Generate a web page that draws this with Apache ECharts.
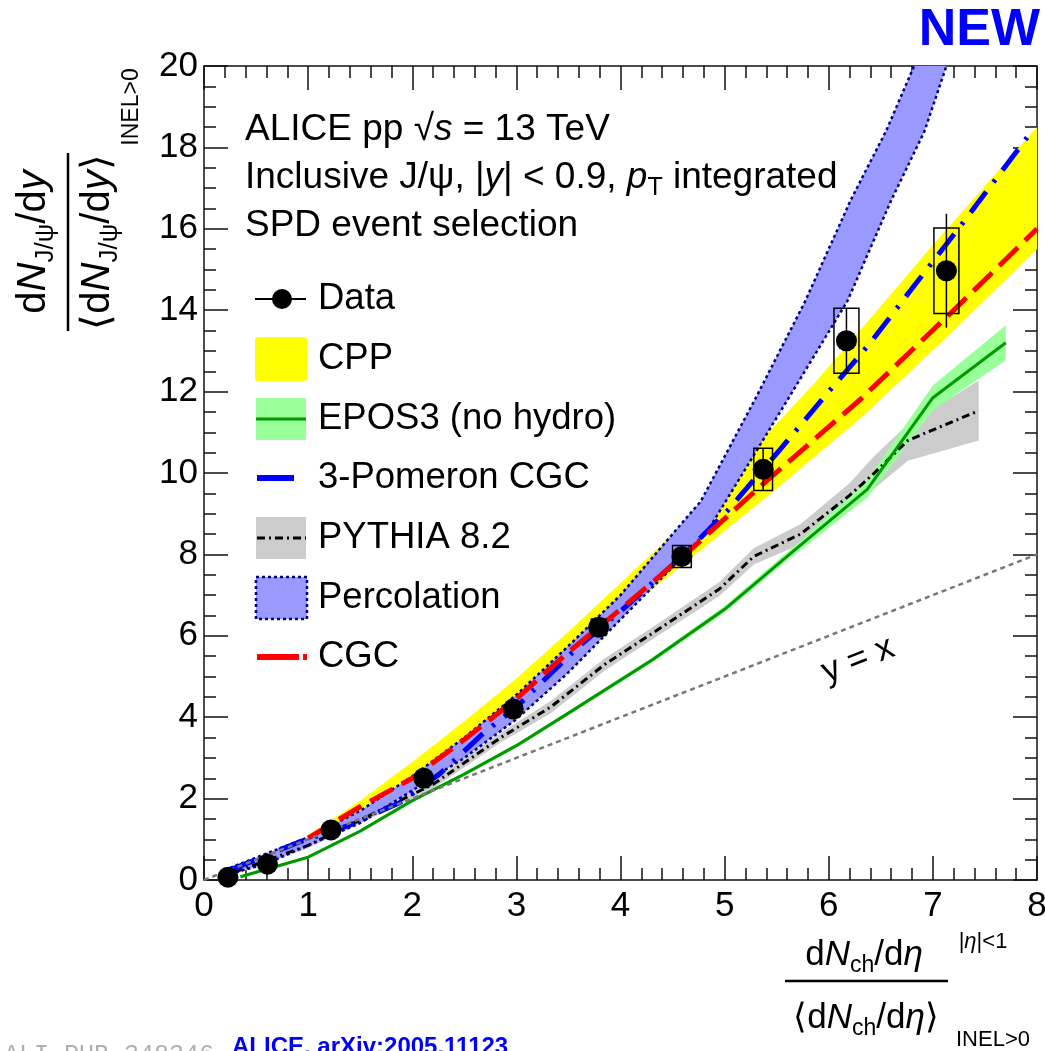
<!DOCTYPE html>
<html>
<head>
<meta charset="utf-8">
<script src="https://cdn.jsdelivr.net/npm/echarts@6/dist/echarts.min.js"></script>
<style>
html,body{margin:0;padding:0;background:#fff;}
#chart{width:1045px;height:1051px;}
</style>
</head>
<body>
<div id="chart"></div>
<script>
// ---------------- DATA ----------------
const xTicks = [0, 1, 2, 3, 4, 5, 6, 7, 8];
const yTicks = [0, 2, 4, 6, 8, 10, 12, 14, 16, 18, 20];

// ALICE data
const dataX   = [0.23, 0.61, 1.22, 2.11, 2.97, 3.79, 4.59, 5.37, 6.17, 7.13];
const dataY   = [0.07, 0.39, 1.23, 2.50, 4.20, 6.21, 7.95, 10.09, 13.25, 14.97];
const statErr = [0.02, 0.03, 0.05, 0.08, 0.12, 0.15, 0.18, 0.52, 0.80, 1.40];
const sysErrX = [0.02, 0.03, 0.04, 0.05, 0.06, 0.07, 0.09, 0.09, 0.12, 0.12];
const sysErrY = [0.02, 0.03, 0.06, 0.10, 0.15, 0.20, 0.27, 0.52, 0.80, 1.05];

// CPP band
const cppUpX = [1.0, 1.5, 2.0, 2.5, 3.0, 3.5, 4.0, 4.64, 5.35, 5.86, 6.2, 7.0, 8.0];
const cppUpY = [1.1, 1.95, 2.9, 3.9, 4.95, 6.1, 7.3, 8.83, 10.8, 12.2, 13.2, 15.6, 18.5];
const cppLoX = [1.0, 2.17, 3.0, 3.78, 4.6, 5.47, 6.31, 7.2, 8.0];
const cppLoY = [1.0, 2.7, 4.45, 6.05, 7.75, 9.55, 11.36, 13.5, 15.5];

// EPOS3 (no hydro)
const eposX    = [0.35, 1.0, 1.5, 2.0, 2.5, 3.0, 3.5, 4.3, 5.0, 5.6, 6.37, 7.0, 7.7];
const eposY    = [0.08, 0.56, 1.2, 1.95, 2.6, 3.3, 4.1, 5.4, 6.65, 7.95, 9.6, 11.85, 13.2];
const eposHigh = [0.11, 0.59, 1.23, 1.99, 2.64, 3.35, 4.15, 5.46, 6.73, 8.05, 9.82, 12.15, 13.63];
const eposLow  = [0.05, 0.53, 1.17, 1.91, 2.56, 3.25, 4.05, 5.34, 6.57, 7.85, 9.4, 11.55, 12.77];

// 3-Pomeron CGC
const pomX = [0.25, 0.5, 0.92, 1.4, 1.88, 2.27, 2.68, 3.0, 3.59, 4.0, 4.59, 5.03, 5.54, 6.0, 6.4, 6.82, 7.29, 7.95];
const pomY = [0.25, 0.5, 0.94, 1.35, 1.9, 2.62, 3.6, 4.25, 5.72, 6.6, 7.95, 9.08, 10.6, 12.0, 13.2, 14.6, 16.15, 18.4];

// PYTHIA 8.2
const pyX    = [0.3, 1.0, 1.4, 1.8, 2.2, 2.85, 3.33, 3.85, 4.3, 4.95, 5.28, 5.73, 6.2, 6.43, 6.76, 7.44];
const pyY    = [0.2, 0.85, 1.35, 1.85, 2.35, 3.5, 4.25, 5.3, 6.05, 7.15, 7.95, 8.5, 9.45, 9.98, 10.8, 11.53];
const pyHigh = [0.25, 0.92, 1.43, 1.95, 2.45, 3.62, 4.4, 5.45, 6.2, 7.32, 8.15, 8.75, 9.75, 10.4, 11.2, 12.27];
const pyLow  = [0.15, 0.78, 1.27, 1.75, 2.25, 3.38, 4.1, 5.15, 5.9, 6.98, 7.75, 8.25, 9.15, 9.6, 10.3, 10.8];

// Percolation band
const percUpX = [0.25, 0.6, 1.0, 1.5, 2.0, 2.5, 3.0, 3.5, 4.0, 4.6, 4.77, 5.29, 5.77, 6.21, 6.55, 6.82];
const percUpY = [0.3, 0.65, 1.05, 1.7, 2.55, 3.5, 4.55, 5.75, 7.0, 8.8, 9.3, 11.8, 14.2, 16.7, 18.4, 20.0];
const percLoX = [0.25, 0.6, 1.0, 1.5, 2.0, 2.5, 3.0, 3.5, 4.0, 4.6, 4.84, 5.6, 6.18, 6.6, 6.92, 7.13];
const percLoY = [0.15, 0.4, 0.85, 1.4, 2.2, 3.0, 3.95, 5.1, 6.4, 7.95, 8.59, 11.78, 14.23, 16.7, 18.4, 20.0];

// CGC
const cgcX = [1.0, 1.5, 2.0, 2.5, 3.0, 3.5, 4.0, 4.6, 5.4, 6.3, 7.2, 8.0];
const cgcY = [1.03, 1.8, 2.5, 3.45, 4.45, 5.6, 6.65, 7.95, 9.8, 11.8, 14.0, 16.0];

// y = x reference
const diagX = [0, 8];
const diagY = [0, 8];

// legend entries
const legendNames = ['Data', 'CPP', 'EPOS3 (no hydro)', '3-Pomeron CGC', 'PYTHIA 8.2', 'Percolation', 'CGC'];

// ---------------- HELPERS ----------------
const FF = '"Liberation Sans", Arial, Helvetica, sans-serif';
const zip = (xs, ys) => xs.map((x, i) => [x, ys[i]]);

function bandSeries(upX, upY, loX, loY, color) {
  return {
    type: 'custom', coordinateSystem: 'cartesian2d', clip: true, silent: true,
    xAxisIndex: 0, yAxisIndex: 0,
    data: [[upX[0], upY[0]]],
    renderItem: function (params, api) {
      const pts = [];
      for (let i = 0; i < upX.length; i++) pts.push(api.coord([upX[i], upY[i]]));
      for (let i = loX.length - 1; i >= 0; i--) pts.push(api.coord([loX[i], loY[i]]));
      return { type: 'polygon', shape: { points: pts }, style: { fill: color, stroke: null } };
    }
  };
}
function lineSeries(data, color, width, type) {
  return {
    type: 'line', data: data, symbol: 'none', showSymbol: false, silent: true,
    xAxisIndex: 0, yAxisIndex: 0, clip: true,
    lineStyle: { color: color, width: width, type: type, cap: 'butt' }
  };
}

// ---------------- CHART ----------------
const chart = echarts.init(document.getElementById('chart'), null, { renderer: 'canvas' });

const axisCommon = {
  axisLine: { show: true, onZero: false, lineStyle: { color: '#111', width: 1.5 } },
  axisTick: { show: true, inside: true, length: 24, lineStyle: { color: '#111', width: 1.5 } },
  minorTick: { show: true, length: 12, lineStyle: { color: '#111', width: 1.5 } },
  splitLine: { show: false },
  minorSplitLine: { show: false }
};

const HS = 37;
const rich = {
  it: { fontStyle: 'italic', fontSize: HS, fontFamily: FF, color: '#000' },
  sub: { fontSize: 25, fontFamily: FF, color: '#000', padding: [20, 0, 0, 0] }
};

function txt(x, y, text, size, opts) {
  opts = opts || {};
  return {
    type: 'text', x: x, y: y, z: 100, rotation: opts.rotation || 0,
    style: {
      text: text, fontSize: size, fontFamily: opts.family || FF, fontWeight: opts.weight || 'normal',
      fill: opts.color || '#000', align: opts.align || 'left', verticalAlign: opts.valign || 'middle',
      textAlign: opts.align || 'left', textVerticalAlign: opts.valign || 'middle',
      rich: opts.rich
    }
  };
}

const legendY = [299, 359, 419, 478, 538, 598, 657];

const graphics = [
  // header texts
  txt(245, 130, 'ALICE pp √{it|s} = 13 TeV', HS, { rich: rich }),
  txt(245, 178, 'Inclusive J/ψ, |{it|y}| < 0.9, {it|p}{sub|T} integrated', HS, { rich: rich }),
  txt(245, 226, 'SPD event selection', HS),
  // NEW
  txt(1040, 31, 'NEW', 52, { weight: 'bold', color: '#0000ff', align: 'right' }),
  // footer
  txt(232, 1047, 'ALICE, arXiv:2005.11123', 24, { weight: 'bold', color: '#0000ff' }),
  txt(4, 1055, 'ALI-PUB-348346', 25, { family: '"Liberation Mono", "DejaVu Sans Mono", monospace', color: '#b0b0b0' }),
  // y = x label
  txt(858, 660, 'y = x', 35, { align: 'center', rotation: 0.373 }),
  // legend symbols
  { type: 'line', z: 100, shape: { x1: 255, y1: legendY[0], x2: 306, y2: legendY[0] }, style: { stroke: '#000', lineWidth: 2 } },
  { type: 'circle', z: 101, shape: { cx: 282, cy: legendY[0], r: 10 }, style: { fill: '#000' } },
  { type: 'rect', z: 100, shape: { x: 255, y: legendY[1] - 22, width: 52, height: 44, r: 3 }, style: { fill: '#ffff00' } },
  { type: 'rect', z: 100, shape: { x: 256, y: legendY[2] - 21, width: 50, height: 42 }, style: { fill: '#99ff99' } },
  { type: 'line', z: 101, shape: { x1: 256, y1: legendY[2], x2: 306, y2: legendY[2] }, style: { stroke: '#009900', lineWidth: 3 } },
  { type: 'line', z: 100, shape: { x1: 257, y1: legendY[3], x2: 294, y2: legendY[3] }, style: { stroke: '#0000ff', lineWidth: 6 } },
  { type: 'rect', z: 100, shape: { x: 256, y: legendY[4] - 21, width: 50, height: 42 }, style: { fill: '#cccccc' } },
  { type: 'line', z: 101, shape: { x1: 257, y1: legendY[4], x2: 306, y2: legendY[4] }, style: { stroke: '#000', lineWidth: 3, lineDash: [8, 4, 2, 4] } },
  { type: 'rect', z: 100, shape: { x: 256, y: legendY[5] - 21, width: 51, height: 42 }, style: { fill: '#9999ff', stroke: '#000080', lineWidth: 2.5, lineDash: [3, 3] } },
  { type: 'line', z: 100, shape: { x1: 257, y1: legendY[6], x2: 299, y2: legendY[6] }, style: { stroke: '#ff0000', lineWidth: 6 } },
  { type: 'line', z: 100, shape: { x1: 303, y1: legendY[6], x2: 307, y2: legendY[6] }, style: { stroke: '#ff0000', lineWidth: 6 } },
  // y axis title (rotated fraction)
  {
    type: 'group', x: 68, y: 242, rotation: Math.PI / 2, z: 100,
    children: [
      { type: 'text', x: 0, y: -34, style: { text: 'd{iN|N}{s|J/ψ}/d{iN|y}', fontSize: 40, fontFamily: FF, fill: '#000', align: 'center', verticalAlign: 'middle',
        rich: { iN: { fontStyle: 'italic', fontSize: 40, fontFamily: FF }, s: { fontSize: 26, fontFamily: FF, padding: [24, 0, 0, 0] } } } },
      { type: 'line', shape: { x1: -89, y1: 0, x2: 89, y2: 0 }, style: { stroke: '#000', lineWidth: 2.5 } },
      { type: 'text', x: 0, y: 30, style: { text: '⟨d{iN|N}{s|J/ψ}/d{iN|y}⟩', fontSize: 40, fontFamily: FF, fill: '#000', align: 'center', verticalAlign: 'middle',
        rich: { iN: { fontStyle: 'italic', fontSize: 40, fontFamily: FF }, s: { fontSize: 26, fontFamily: FF, padding: [24, 0, 0, 0] } } } },
      { type: 'text', x: 135, y: 64, style: { text: 'INEL>0', fontSize: 23, fontFamily: FF, fill: '#000', align: 'center', verticalAlign: 'middle' } }
    ]
  },
  // x axis title (fraction)
  { type: 'text', x: 864, y: 955, z: 100, style: { text: 'd{iN|N}{s|ch}/d{iN|η}', fontSize: 35, fontFamily: FF, fill: '#000', align: 'center', verticalAlign: 'middle',
      rich: { iN: { fontStyle: 'italic', fontSize: 35, fontFamily: FF }, s: { fontSize: 23, fontFamily: FF, padding: [22, 0, 0, 0] } } } },
  { type: 'line', z: 100, shape: { x1: 785, y1: 981, x2: 948, y2: 981 }, style: { stroke: '#000', lineWidth: 2.5 } },
  { type: 'text', x: 866, y: 1018, z: 100, style: { text: '⟨d{iN|N}{s|ch}/d{iN|η}⟩', fontSize: 35, fontFamily: FF, fill: '#000', align: 'center', verticalAlign: 'middle',
      rich: { iN: { fontStyle: 'italic', fontSize: 35, fontFamily: FF }, s: { fontSize: 23, fontFamily: FF, padding: [22, 0, 0, 0] } } } },
  { type: 'text', x: 983, y: 942, z: 100, style: { text: '|{iN|η}|<1', fontSize: 22, fontFamily: FF, fill: '#000', align: 'center', verticalAlign: 'middle',
      rich: { iN: { fontStyle: 'italic', fontSize: 22, fontFamily: FF } } } },
  { type: 'text', x: 993, y: 1040, z: 100, style: { text: 'INEL>0', fontSize: 22, fontFamily: FF, fill: '#000', align: 'center', verticalAlign: 'middle' } }
];
legendNames.forEach((n, i) => graphics.push(txt(318, legendY[i], n, 36.5)));

const option = {
  animation: false,
  backgroundColor: '#fff',
  grid: { left: 204, right: 8, top: 66, bottom: 171, containLabel: false, outerBoundsMode: 'none' },
  xAxis: [
    Object.assign({}, axisCommon, {
      type: 'value', min: xTicks[0], max: xTicks[xTicks.length - 1], interval: 1, position: 'bottom',
      minorTick: Object.assign({}, axisCommon.minorTick, { splitNumber: 5 }),
      axisLabel: { show: true, fontSize: 35, fontFamily: FF, color: '#000', margin: 9 }
    }),
    Object.assign({}, axisCommon, {
      type: 'value', min: xTicks[0], max: xTicks[xTicks.length - 1], interval: 1, position: 'top',
      minorTick: Object.assign({}, axisCommon.minorTick, { splitNumber: 5 }),
      axisLabel: { show: false }
    })
  ],
  yAxis: [
    Object.assign({}, axisCommon, {
      type: 'value', min: yTicks[0], max: yTicks[yTicks.length - 1], interval: 2, position: 'left',
      minorTick: Object.assign({}, axisCommon.minorTick, { splitNumber: 4 }),
      axisLabel: { show: true, fontSize: 35, fontFamily: FF, color: '#000', margin: 6 }
    }),
    Object.assign({}, axisCommon, {
      type: 'value', min: yTicks[0], max: yTicks[yTicks.length - 1], interval: 2, position: 'right',
      minorTick: Object.assign({}, axisCommon.minorTick, { splitNumber: 4 }),
      axisLabel: { show: false }
    })
  ],
  graphic: graphics,
  series: [
    bandSeries(cppUpX, cppUpY, cppLoX, cppLoY, '#ffff00'),
    bandSeries(pyX, pyHigh, pyX, pyLow, '#cccccc'),
    bandSeries(eposX, eposHigh, eposX, eposLow, '#99ff99'),
    lineSeries(zip(pyX, pyY), '#000', 3, [8, 4, 2, 4]),
    lineSeries(zip(eposX, eposY), '#009900', 3, 'solid'),
    bandSeries(percUpX, percUpY, percLoX, percLoY, '#9999ff'),
    lineSeries(zip(percUpX, percUpY), '#000080', 2.5, [3, 3]),
    lineSeries(zip(percLoX, percLoY), '#000080', 2.5, [3, 3]),
    lineSeries(zip(pomX, pomY), '#0000ff', 5, [26, 12, 3, 12]),
    lineSeries(zip(cgcX, cgcY), '#ff0000', 5, [26, 10]),
    lineSeries(zip(diagX, diagY), '#777777', 2.5, [5, 4]),
    {
      type: 'custom', coordinateSystem: 'cartesian2d', silent: true, clip: true, z: 4,
      data: dataX.map((x, i) => [x, dataY[i], statErr[i], sysErrX[i], sysErrY[i]]),
      renderItem: function (params, api) {
        const x = api.value(0), y = api.value(1), st = api.value(2), sx = api.value(3), sy = api.value(4);
        const t = api.coord([x, y + st]), b = api.coord([x, y - st]);
        const bl = api.coord([x - sx, y - sy]), tr = api.coord([x + sx, y + sy]);
        return {
          type: 'group', children: [
            { type: 'line', shape: { x1: t[0], y1: t[1], x2: b[0], y2: b[1] }, style: { stroke: '#000', lineWidth: 1.5 } },
            { type: 'rect', shape: { x: bl[0], y: tr[1], width: tr[0] - bl[0], height: bl[1] - tr[1] }, style: { fill: 'none', stroke: '#000', lineWidth: 1.5 } }
          ]
        };
      }
    },
    {
      type: 'scatter', data: zip(dataX, dataY), symbol: 'circle', symbolSize: 21, silent: true,
      itemStyle: { color: '#000', opacity: 1 }, z: 5
    }
  ]
};
chart.setOption(option);
</script>
</body>
</html>
